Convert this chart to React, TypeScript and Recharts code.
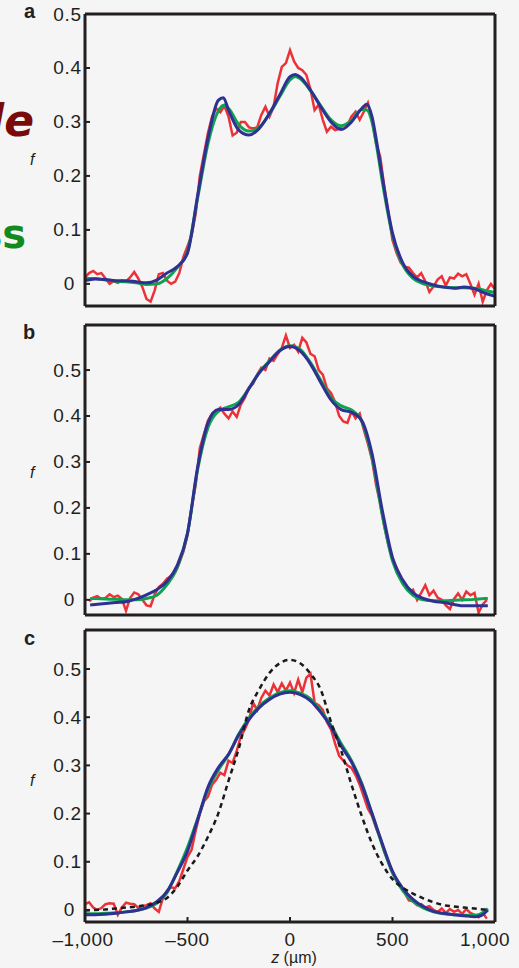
import React from 'react';
import { LineChart, Line, XAxis, YAxis } from 'recharts';

// Fraction f vs position z (µm), three panels: measured profile (red),
// two model fits (green, blue) and, in panel c, a reference profile (dashed).

const W = 519;
const H = 968;
const FONT = '"Liberation Sans", Arial, sans-serif';
const INK = '#231f20';
const RED = '#ec3237';
const GREEN = '#0fa34f';
const BLUE = '#2e3192';

// sample positions of the measured profiles (µm)
const redZ = [
  -1000, -980, -960, -940, -920, -900, -880, -860, -840, -820,
  -800, -780, -760, -740, -720, -700, -680, -660, -640, -620,
  -600, -580, -560, -540, -520, -500, -480, -460, -440, -420,
  -400, -380, -360, -340, -320, -300, -280, -260, -240, -220,
  -200, -180, -160, -140, -120, -100, -80, -60, -40, -20,
  0, 20, 40, 60, 80, 100, 120, 140, 160, 180,
  200, 220, 240, 260, 280, 300, 320, 340, 360, 380,
  400, 420, 440, 460, 480, 500, 520, 540, 560, 580,
  600, 620, 640, 660, 680, 700, 720, 740, 760, 780,
  800, 820, 840, 860, 880, 900, 920, 940, 960, 980,
  1000,
];

// ---- panel a ----
const aRed = [
  0.012, 0.02, 0.024, 0.018, 0.02, 0.01, 0.0, 0.005, 0.002, 0.006,
  0.004, 0.012, 0.022, 0.01, -0.006, -0.028, -0.033, -0.012, 0.018, 0.02,
  0.006, 0.0, 0.004, 0.02, 0.05, 0.07, 0.09, 0.13, 0.2, 0.24,
  0.28, 0.31, 0.325, 0.318, 0.33, 0.31, 0.275, 0.28, 0.3, 0.3,
  0.29, 0.288, 0.29, 0.313, 0.328, 0.31, 0.328, 0.372, 0.402, 0.409,
  0.433, 0.412, 0.4, 0.396, 0.387, 0.36, 0.322, 0.332, 0.304, 0.282,
  0.291, 0.285, 0.287, 0.294, 0.294, 0.31, 0.319, 0.304, 0.319, 0.335,
  0.304, 0.26, 0.236, 0.18, 0.131, 0.081, 0.057, 0.039, 0.032, 0.03,
  0.02, 0.012, 0.02, 0.005, -0.015, -0.005, 0.008, 0.014, -0.003, 0.012,
  0.01, 0.019, 0.014, 0.018, 0.0, -0.02, 0.0, -0.033, -0.012, 0.0,
  -0.01,
];
const aFitZ = [
  -1000, -950, -900, -850, -800, -750, -700, -650, -600, -550,
  -500, -450, -400, -350, -325, -300, -250, -200, -150, -100,
  -50, 0, 25, 50, 100, 150, 200, 250, 300, 350,
  375, 400, 425, 450, 500, 550, 600, 650, 700, 750,
  800, 850, 900, 950, 1000,
];
const aBlue = [
  0.006, 0.009, 0.008, 0.006, 0.006, 0.004, 0.002, 0.007, 0.02, 0.032,
  0.057, 0.165, 0.27, 0.34, 0.345, 0.322, 0.285, 0.276, 0.288, 0.316,
  0.35, 0.384, 0.388, 0.383, 0.359, 0.328, 0.3, 0.286, 0.3, 0.325,
  0.333, 0.31, 0.258, 0.199, 0.094, 0.039, 0.014, 0.004, -0.002, -0.006,
  -0.008, -0.006, -0.009, -0.017, -0.023,
];
const aGreen = [
  0.01, 0.01, 0.007, 0.005, 0.004, 0.002, -0.001, 0.0, 0.01, 0.03,
  0.06, 0.16, 0.26, 0.32, 0.331, 0.325, 0.295, 0.283, 0.29, 0.315,
  0.347, 0.378, 0.384, 0.38, 0.358, 0.33, 0.304, 0.293, 0.303, 0.323,
  0.322, 0.3, 0.25, 0.19, 0.09, 0.035, 0.01, 0.0, -0.004, -0.006,
  -0.007, -0.007, -0.008, -0.012, -0.016,
];

// ---- panel b ----
const bRed = [
  -0.003, 0.005, 0.008, 0.002, 0.004, 0.012, 0.006, 0.009, 0.002, -0.024,
  0.004, 0.016, 0.012, 0.0, -0.012, -0.014, 0.012, 0.028, 0.035, 0.046,
  0.052, 0.06, 0.08, 0.105, 0.14, 0.2, 0.25, 0.33, 0.36, 0.39,
  0.405, 0.41, 0.418, 0.405, 0.395, 0.41, 0.398, 0.425, 0.44, 0.462,
  0.47, 0.49, 0.505, 0.5, 0.525, 0.52, 0.535, 0.548, 0.575, 0.548,
  0.555, 0.54, 0.57, 0.56, 0.535, 0.53, 0.5, 0.49, 0.46, 0.45,
  0.43, 0.4, 0.388, 0.385, 0.41, 0.395, 0.405, 0.37, 0.34, 0.305,
  0.25, 0.21, 0.16, 0.12, 0.088, 0.07, 0.045, 0.03, 0.018, 0.022,
  0.0, 0.015, 0.032, 0.01, 0.02, 0.005, 0.0, -0.012, -0.02, 0.002,
  0.014, 0.0, 0.018, 0.01, 0.015, -0.028, -0.01, 0.0,
];
const bFitZ = [
  -975, -950, -900, -850, -800, -750, -700, -650, -600, -550,
  -500, -450, -400, -350, -300, -250, -200, -150, -100, -50,
  0, 50, 100, 150, 200, 250, 300, 350, 400, 450,
  500, 550, 600, 650, 700, 750, 800, 850, 900, 950,
  965,
];
const bBlue = [
  -0.011, -0.01, -0.008, -0.006, -0.004, 0.002, 0.011, 0.022, 0.04, 0.075,
  0.145, 0.29, 0.385, 0.414, 0.414, 0.425, 0.46, 0.494, 0.518, 0.542,
  0.551, 0.541, 0.513, 0.473, 0.435, 0.414, 0.408, 0.39, 0.318, 0.195,
  0.092, 0.043, 0.015, 0.003, -0.003, -0.006, -0.01, -0.013, -0.013, -0.013,
  -0.013,
];
const bGreen = [
  0.003, 0.003, 0.002, 0.001, 0.0, 0.0, 0.003, 0.01, 0.033, 0.07,
  0.145, 0.285, 0.375, 0.41, 0.42, 0.43, 0.46, 0.495, 0.52, 0.543,
  0.553, 0.545, 0.516, 0.478, 0.44, 0.422, 0.413, 0.388, 0.31, 0.185,
  0.085, 0.035, 0.01, 0.0, -0.002, -0.002, -0.001, 0.0, 0.001, 0.003,
  0.003,
];

// ---- panel c ----
const cRed = [
  0.012, 0.016, 0.005, 0.0, 0.004, 0.012, 0.014, 0.013, -0.01, 0.005,
  0.015, 0.013, 0.012, 0.004, 0.008, 0.01, 0.014, 0.003, -0.004, 0.025,
  0.04, 0.047, 0.045, 0.06, 0.085, 0.11, 0.125, 0.165, 0.2, 0.225,
  0.235, 0.26, 0.27, 0.285, 0.28, 0.31, 0.305, 0.33, 0.36, 0.375,
  0.395, 0.43, 0.415, 0.44, 0.455, 0.445, 0.468, 0.452, 0.47, 0.455,
  0.472, 0.45, 0.478, 0.452, 0.482, 0.49, 0.43, 0.425, 0.415, 0.39,
  0.375, 0.345, 0.32, 0.31, 0.3, 0.295, 0.28, 0.26, 0.235, 0.21,
  0.195, 0.17, 0.15, 0.12, 0.1, 0.08, 0.062, 0.048, 0.035, 0.02,
  0.018, 0.01, 0.012, 0.005, 0.008, 0.0, -0.004, 0.003, -0.006, 0.002,
  -0.004, 0.0, -0.008, 0.002, -0.006, -0.01, -0.015, -0.006, -0.018,
];
const cFitZ = [
  -1000, -950, -900, -850, -800, -750, -700, -650, -600, -550,
  -500, -450, -400, -350, -300, -250, -200, -150, -100, -50,
  0, 50, 100, 150, 200, 250, 300, 350, 400, 450,
  500, 550, 600, 650, 700, 750, 800, 850, 900, 930,
  965,
];
const cBlue = [
  -0.01, -0.01, -0.009, -0.007, -0.004, -0.001, 0.005, 0.017, 0.038, 0.078,
  0.122, 0.188, 0.255, 0.295, 0.323, 0.363, 0.395, 0.42, 0.437, 0.448,
  0.452, 0.447, 0.434, 0.41, 0.38, 0.34, 0.307, 0.26, 0.2, 0.138,
  0.08, 0.045, 0.022, 0.007, -0.003, -0.007, -0.01, -0.012, -0.014, -0.012,
  0.0,
];
const cGreen = [
  -0.008, -0.008, -0.007, -0.006, -0.004, -0.001, 0.004, 0.014, 0.036, 0.08,
  0.13, 0.19, 0.25, 0.29, 0.322, 0.365, 0.398, 0.423, 0.44, 0.451,
  0.455, 0.45, 0.438, 0.413, 0.383, 0.345, 0.31, 0.263, 0.2, 0.135,
  0.077, 0.04, 0.018, 0.004, -0.004, -0.008, -0.01, -0.011, -0.011, -0.008,
  0.003,
];
const cDashZ = [
  -1000, -950, -900, -850, -800, -750, -700, -650, -600, -550,
  -500, -450, -400, -350, -300, -250, -200, -150, -100, -50,
  0, 50, 100, 150, 200, 250, 300, 350, 400, 450,
  500, 550, 600, 650, 700, 750, 800, 850, 900, 950,
  965,
];
const cDash = [
  -0.001, 0.0, 0.001, 0.003, 0.005, 0.007, 0.01, 0.015, 0.025, 0.048,
  0.082, 0.112, 0.152, 0.2, 0.268, 0.335, 0.415, 0.458, 0.492, 0.512,
  0.519, 0.512, 0.49, 0.457, 0.39, 0.33, 0.26, 0.195, 0.138, 0.095,
  0.064, 0.046, 0.034, 0.024, 0.016, 0.01, 0.007, 0.005, 0.003, 0.001,
  0.001,
];

const yTicks = [0, 0.1, 0.2, 0.3, 0.4, 0.5];
const xTicksInner = [-500, 0, 500];
const xTicksAll = [-1000, -500, 0, 500, 1000];
const xTickText: Record<number, string> = {
  '-1000': '\u20131,000',
  '-500': '\u2013500',
  '0': '0',
  '500': '500',
  '1000': '1,000',
};

const pts = (zs: number[], vs: number[]) => zs.map((z, i) => ({ z, v: vs[i] }));

function YTick(props: any) {
  const { x, y, payload } = props;
  const v = payload.value;
  return (
    <text
      x={v === 0 ? x - 7 : x}
      y={y}
      dy={6.5}
      textAnchor="end"
      fontFamily={FONT}
      fontSize={19}
      letterSpacing={0.8}
      fill={INK}
    >
      {v === 0 ? '0' : v.toFixed(1)}
    </text>
  );
}

function XTick(props: any) {
  const { x, y, payload } = props;
  const v = payload.value;
  const shift = v === 1000 ? -10 : v === -1000 ? -2 : 0;
  return (
    <text
      x={x + shift}
      y={y}
      dy={12.5}
      textAnchor="middle"
      fontFamily={FONT}
      fontSize={19}
      letterSpacing={0.5}
      fill={INK}
    >
      {xTickText[v]}
    </text>
  );
}

interface PanelProps {
  top: number;
  height: number;
  boxTop: number;
  xAxisH: number;
  yDomain: [number, number];
  red: { z: number; v: number }[];
  green: { z: number; v: number }[];
  blue: { z: number; v: number }[];
  dashed?: { z: number; v: number }[];
  xLabels?: boolean;
}

function Panel({ top, height, boxTop, xAxisH, yDomain, red, green, blue, dashed, xLabels }: PanelProps) {
  const axisLine = { stroke: INK, strokeWidth: 3 };
  const tickLine = { stroke: INK, strokeWidth: 2 };
  return (
    <div style={{ position: 'absolute', left: 0, top }}>
      <LineChart width={W} height={height} margin={{ top: boxTop - 1, right: 0, bottom: 0, left: 0 }}>
        <XAxis
          xAxisId="b"
          type="number"
          dataKey="z"
          domain={[-1000, 1000]}
          allowDataOverflow
          ticks={xLabels ? xTicksAll : xTicksInner}
          height={xAxisH}
          tickSize={-5}
          tickMargin={16}
          axisLine={axisLine}
          tickLine={tickLine}
          tick={xLabels ? <XTick /> : false}
        />
        <XAxis
          xAxisId="t"
          orientation="top"
          type="number"
          dataKey="z"
          domain={[-1000, 1000]}
          allowDataOverflow
          ticks={xTicksInner}
          height={1}
          tickSize={-5}
          axisLine={axisLine}
          tickLine={tickLine}
          tick={false}
        />
        <YAxis
          yAxisId="l"
          type="number"
          domain={yDomain}
          allowDataOverflow
          ticks={yTicks}
          width={85}
          tickSize={-5}
          tickMargin={8}
          axisLine={axisLine}
          tickLine={tickLine}
          tick={<YTick />}
        />
        <YAxis
          yAxisId="r"
          orientation="right"
          type="number"
          domain={yDomain}
          allowDataOverflow
          ticks={yTicks}
          width={24}
          tickSize={-5}
          axisLine={axisLine}
          tickLine={tickLine}
          tick={false}
        />
        <Line
          xAxisId="b"
          yAxisId="l"
          data={red}
          dataKey="v"
          type="linear"
          stroke={RED}
          strokeWidth={2.5}
          dot={false}
          isAnimationActive={false}
        />
        <Line
          xAxisId="b"
          yAxisId="l"
          data={green}
          dataKey="v"
          type="monotone"
          stroke={GREEN}
          strokeWidth={3}
          dot={false}
          isAnimationActive={false}
        />
        <Line
          xAxisId="b"
          yAxisId="l"
          data={blue}
          dataKey="v"
          type="monotone"
          stroke={BLUE}
          strokeWidth={3}
          dot={false}
          isAnimationActive={false}
        />
        {dashed && (
          <Line
            xAxisId="b"
            yAxisId="l"
            data={dashed}
            dataKey="v"
            type="monotone"
            stroke="#1a1a1a"
            strokeWidth={2.5}
            strokeDasharray="5 4"
            dot={false}
            isAnimationActive={false}
          />
        )}
      </LineChart>
    </div>
  );
}

export default function App() {
  return (
    <div
      style={{
        position: 'absolute',
        left: 0,
        top: 0,
        width: W,
        height: H,
        background: '#f5f5f5',
        overflow: 'hidden',
      }}
    >
      <Panel
        top={0}
        height={320}
        boxTop={14}
        xAxisH={14}
        yDomain={[-0.041, 0.5]}
        red={pts(redZ, aRed)}
        green={pts(aFitZ, aGreen)}
        blue={pts(aFitZ, aBlue)}
      />
      <Panel
        top={310}
        height={320}
        boxTop={15}
        xAxisH={15}
        yDomain={[-0.033, 0.598]}
        red={pts(redZ.slice(1, 99), bRed)}
        green={pts(bFitZ, bGreen)}
        blue={pts(bFitZ, bBlue)}
      />
      <Panel
        top={620}
        height={348}
        boxTop={10}
        xAxisH={46}
        yDomain={[-0.025, 0.581]}
        red={pts(redZ.slice(0, 99), cRed)}
        green={pts(cFitZ, cGreen)}
        blue={pts(cFitZ, cBlue)}
        dashed={pts(cDashZ, cDash)}
        xLabels
      />
      <svg
        width={W}
        height={H}
        style={{ position: 'absolute', left: 0, top: 0, pointerEvents: 'none' }}
      >
        <text x={34} y={136} textAnchor="end" fontFamily="DejaVu Sans" fontWeight="bold" fontStyle="italic" fontSize={44} fill="#7a0a0a">
          le
        </text>
        <text x={26} y={248} textAnchor="end" fontFamily="DejaVu Sans" fontWeight="bold" fontSize={40} fill="#138a1d">
          ss
        </text>
        <g fontFamily={FONT} fontWeight="bold" fontSize={20} fill={INK}>
          <text x={24} y={18}>a</text>
          <text x={23} y={339}>b</text>
          <text x={24} y={645}>c</text>
        </g>
        <g fontFamily={FONT} fontStyle="italic" fontSize={16} fill={INK}>
          <text x={30} y={165}>f</text>
          <text x={30} y={478}>f</text>
          <text x={30} y={786}>f</text>
        </g>
        <text x={294} y={963} textAnchor="middle" fontFamily={FONT} fontSize={16} fill={INK}>
          <tspan fontStyle="italic">z</tspan> (µm)
        </text>
      </svg>
    </div>
  );
}
